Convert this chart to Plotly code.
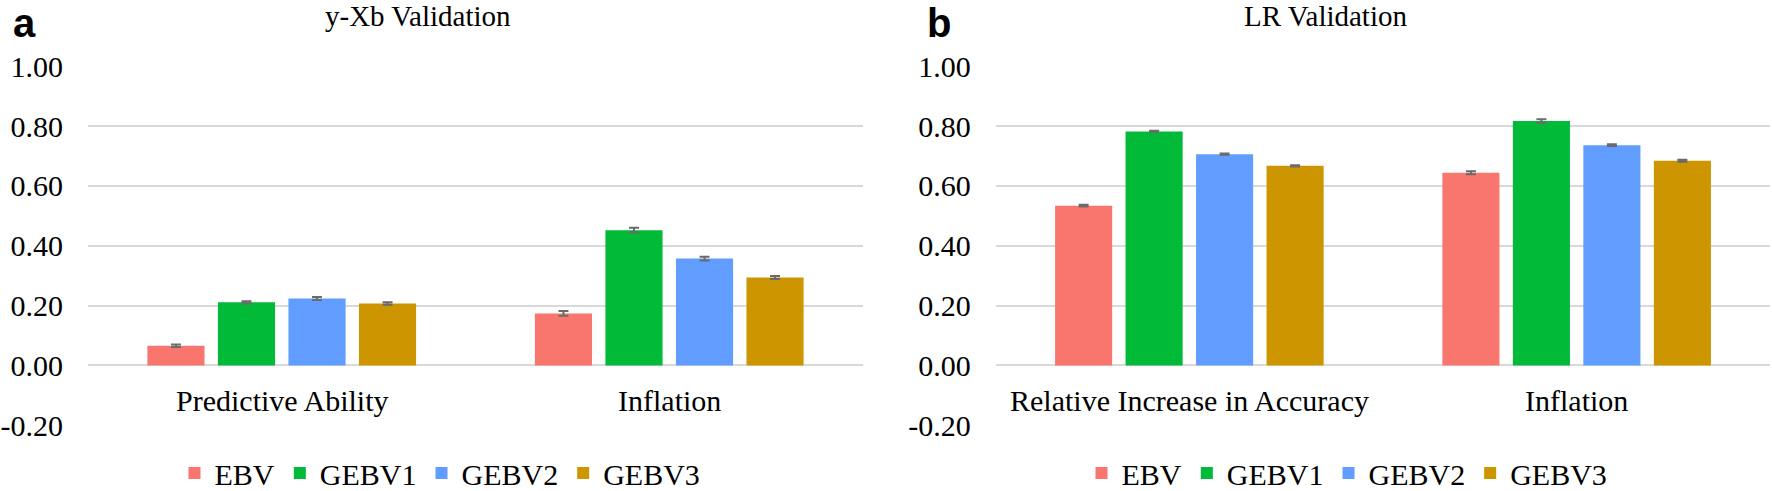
import plotly.graph_objects as go

# ---------------- data ----------------
series_names = ["EBV", "GEBV1", "GEBV2", "GEBV3"]
series_colors = ["#F8766D", "#00BA38", "#619CFF", "#CD9600"]

categories_a = ["Predictive Ability", "Inflation"]
ebv_a = [0.066, 0.174]
gebv1_a = [0.211, 0.452]
gebv2_a = [0.224, 0.357]
gebv3_a = [0.207, 0.294]
err_ebv_a = [0.004, 0.008]
err_gebv1_a = [0.004, 0.008]
err_gebv2_a = [0.005, 0.006]
err_gebv3_a = [0.004, 0.005]

categories_b = ["Relative Increase in Accuracy", "Inflation"]
ebv_b = [0.534, 0.644]
gebv1_b = [0.782, 0.817]
gebv2_b = [0.706, 0.736]
gebv3_b = [0.667, 0.684]
err_ebv_b = [0.003, 0.005]
err_gebv1_b = [0.002, 0.006]
err_gebv2_b = [0.002, 0.003]
err_gebv3_b = [0.002, 0.003]

tick_values = [-0.2, 0.0, 0.2, 0.4, 0.6, 0.8, 1.0]
tick_labels = ["-0.20", "0.00", "0.20", "0.40", "0.60", "0.80", "1.00"]

title_a = "y-Xb Validation"
title_b = "LR Validation"
panel_a = "a"
panel_b = "b"

# ---------------- layout helpers ----------------
W, H = 1772, 491
SERIF = "Liberation Serif, Times New Roman, serif"
SANS = "Liberation Sans, Arial, sans-serif"


def px_x(p):
    return p / W


def px_y(p):
    return 1 - p / H


fig = go.Figure()

vals_a = [ebv_a, gebv1_a, gebv2_a, gebv3_a]
errs_a = [err_ebv_a, err_gebv1_a, err_gebv2_a, err_gebv3_a]
vals_b = [ebv_b, gebv1_b, gebv2_b, gebv3_b]
errs_b = [err_ebv_b, err_gebv1_b, err_gebv2_b, err_gebv3_b]

for name, color, v, e in zip(series_names, series_colors, vals_a, errs_a):
    fig.add_trace(go.Bar(
        x=categories_a, y=v, name=name, xaxis="x", yaxis="y",
        marker=dict(color=color, line=dict(width=0)),
        error_y=dict(type="data", array=e, color="#6b6b6b", thickness=2, width=5),
        legend="legend", offsetgroup=name,
    ))

for name, color, v, e in zip(series_names, series_colors, vals_b, errs_b):
    fig.add_trace(go.Bar(
        x=categories_b, y=v, name=name, xaxis="x2", yaxis="y2",
        marker=dict(color=color, line=dict(width=0)),
        error_y=dict(type="data", array=e, color="#6b6b6b", thickness=2, width=5),
        legend="legend2", offsetgroup=name,
    ))

y_top_px, y_bot_px = 66.0, 425.5
ydom = [px_y(y_bot_px), px_y(y_top_px)]
yrange = [-0.2005, 1.0005]

yaxis_common = dict(
    range=yrange, domain=ydom, tickvals=tick_values, ticktext=tick_labels,
    showgrid=True, gridcolor="#d9d9d9", gridwidth=2, zeroline=False,
    showline=False, ticks="", ticklabelstandoff=24,
    tickfont=dict(family=SERIF, size=30, color="black"), fixedrange=True,
)
xaxis_common = dict(showgrid=False, zeroline=False, showline=False,
                    showticklabels=False, ticks="", fixedrange=True)

fig.update_layout(
    width=W, height=H,
    margin=dict(l=0, r=0, t=0, b=0, autoexpand=False),
    paper_bgcolor="white", plot_bgcolor="white",
    barmode="group", bargap=0.272, bargroupgap=0.19,
    xaxis=dict(domain=[px_x(88), px_x(863)], anchor="y", **xaxis_common),
    yaxis=dict(anchor="x", **yaxis_common),
    xaxis2=dict(domain=[px_x(995.7), px_x(1770.3)], anchor="y2", **xaxis_common),
    yaxis2=dict(anchor="x2", **yaxis_common),
    legend=dict(orientation="h", x=px_x(440), xanchor="center", y=px_y(473), yanchor="middle",
                font=dict(family=SERIF, size=30, color="black"), bgcolor="rgba(0,0,0,0)"),
    legend2=dict(orientation="h", x=px_x(1347), xanchor="center", y=px_y(473), yanchor="middle",
                 font=dict(family=SERIF, size=30, color="black"), bgcolor="rgba(0,0,0,0)"),
    showlegend=True,
)

annotations = []
for cat in categories_a:
    annotations.append(dict(x=cat, y=-0.117, xref="x", yref="y", text=cat, showarrow=False,
                            xanchor="center", yanchor="middle",
                            font=dict(family=SERIF, size=30, color="black")))
for cat in categories_b:
    annotations.append(dict(x=cat, y=-0.117, xref="x2", yref="y2", text=cat, showarrow=False,
                            xanchor="center", yanchor="middle",
                            font=dict(family=SERIF, size=30, color="black")))

annotations.append(dict(x=px_x(418), y=px_y(16), xref="paper", yref="paper", text=title_a,
                        showarrow=False, xanchor="center", yanchor="middle",
                        font=dict(family=SERIF, size=29, color="black")))
annotations.append(dict(x=px_x(1325), y=px_y(16), xref="paper", yref="paper", text=title_b,
                        showarrow=False, xanchor="center", yanchor="middle",
                        font=dict(family=SERIF, size=29, color="black")))
annotations.append(dict(x=px_x(12), y=1, xref="paper", yref="paper", text="<b>%s</b>" % panel_a,
                        showarrow=False, xanchor="left", yanchor="top", borderpad=0,
                        font=dict(family=SANS, size=40, color="black")))
annotations.append(dict(x=px_x(926), y=1, xref="paper", yref="paper", text="<b>%s</b>" % panel_b,
                        showarrow=False, xanchor="left", yanchor="top", borderpad=0,
                        font=dict(family=SANS, size=40, color="black")))

fig.update_layout(annotations=annotations)

fig.write_html(
    "out.html",
    config={"displayModeBar": False},
    post_script="document.body.style.margin='0px';document.body.style.overflow='hidden';",
)
